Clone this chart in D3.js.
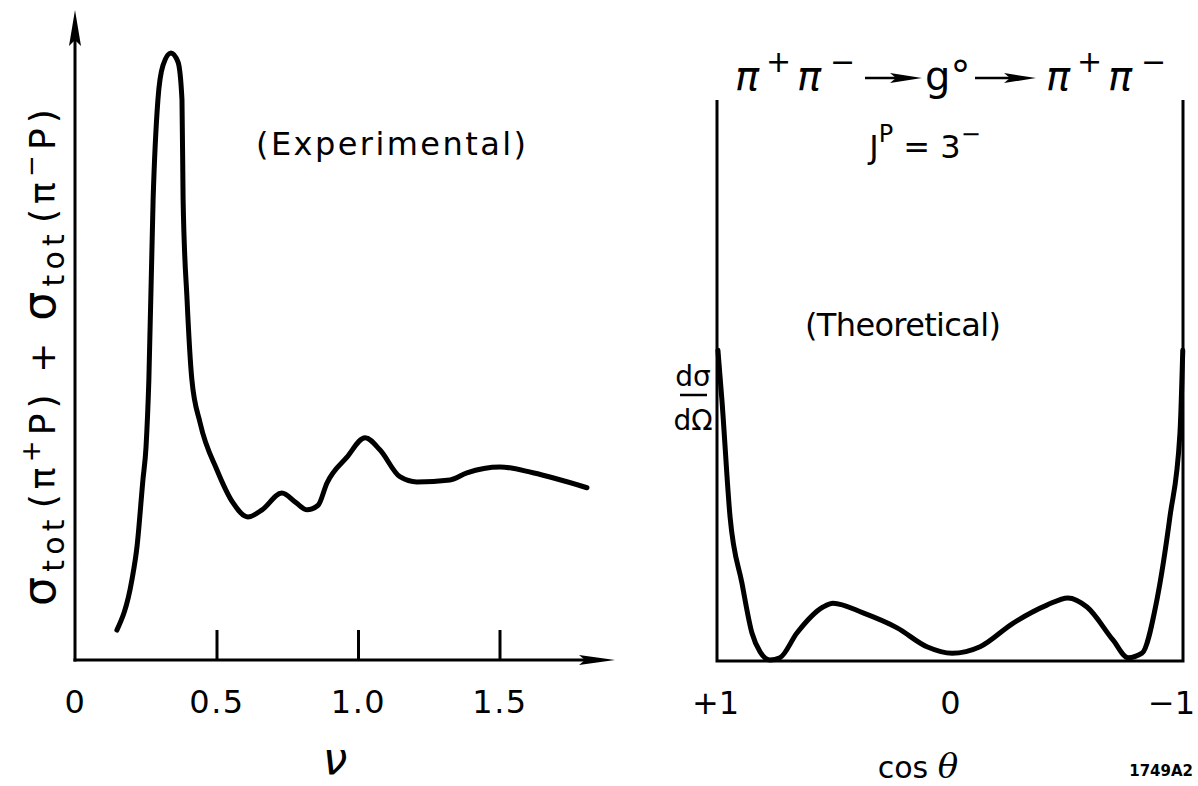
<!DOCTYPE html>
<html><head><meta charset="utf-8">
<script src="https://cdn.jsdelivr.net/npm/d3@7"></script>
<style>
body{margin:0;background:#fff}
svg{display:block}
text{font-family:"DejaVu Sans",sans-serif;fill:#000}
</style>
</head><body>
<svg id="c" width="1198" height="786"></svg>
<script>
// ---- data ----
const nuValues    = [0.148,0.201,0.219,0.240,0.251,0.261,0.276,0.293,0.311,0.339,0.364,0.378,0.382,0.396,0.413,0.442,0.502,0.558,0.611,0.661,0.731,0.781,0.820,0.859,0.890,0.961,1.025,1.078,1.148,1.208,1.325,1.385,1.502,1.618,1.809];
const sigmaValues = [4.6,12.3,17.4,27.7,32.8,43.1,70.8,86.2,91.5,93.4,92.0,86.2,70.8,55.4,43.1,36.5,29.2,24.2,22.0,23.1,25.7,24.2,23.1,23.8,27.2,31.2,34.2,32.3,28.2,27.4,27.7,28.8,29.7,28.8,26.5];
const nuTicks      = [0, 0.5, 1.0, 1.5];
const nuTickLabels = ["0", "0.5", "1.0", "1.5"];

const cosThetaValues = [0.996,0.979,0.944,0.893,0.850,0.815,0.773,0.730,0.657,0.545,0.502,0.373,0.227,0.099,-0.009,-0.129,-0.270,-0.416,-0.506,-0.588,-0.700,-0.764,-0.824,-0.888,-0.944,-0.987,-0.999];
const dsdoValues     = [47.8,40.2,22.2,12.0,4.3,1.4,0.15,0.5,4.3,8.3,8.9,7.4,5.1,2.2,1.2,2.2,5.8,8.6,9.7,8.3,3.2,0.5,1.2,9.4,22.2,35.1,47.8];
const cosTicks      = [1, 0, -1];
const cosTickLabels = ["+1", "0", "−1"];

// ---- layout ----
const svg = d3.select("#c");
const L = {x0:75, x1:615, y0:660, yTop:10};
const R = {x0:717, x1:1183, y0:661, yTop:100};

// ---- left panel ----
const xL = d3.scaleLinear().domain([0, 1.909]).range([L.x0, L.x0 + 1.909*283]);
const yL = d3.scaleLinear().domain([0, 100]).range([L.y0, L.y0 - 650]);
const gL = svg.append("g");

gL.append("line").attr("x1",L.x0).attr("y1",L.y0+1.5).attr("x2",L.x0).attr("y2",L.yTop+30)
  .attr("stroke","#000").attr("stroke-width",3);
gL.append("path").attr("d",`M${L.x0},${L.yTop} L${L.x0-6},${L.yTop+36} L${L.x0},${L.yTop+30} L${L.x0+6},${L.yTop+36} Z`).attr("fill","#000");
gL.append("line").attr("x1",L.x0-1.5).attr("y1",L.y0).attr("x2",L.x1-25).attr("y2",L.y0)
  .attr("stroke","#000").attr("stroke-width",3);
gL.append("path").attr("d",`M${L.x1},${L.y0} L${L.x1-36},${L.y0-5} L${L.x1-30},${L.y0} L${L.x1-36},${L.y0+5} Z`).attr("fill","#000");

const axL = d3.axisBottom(xL).tickValues(nuTicks).tickSize(-30).tickPadding(30)
  .tickFormat((d,i)=>nuTickLabels[i]);
const gAx = gL.append("g").attr("transform",`translate(0,${L.y0})`).call(axL);
gAx.select(".domain").remove();
gAx.selectAll(".tick line").attr("stroke","#000").attr("stroke-width",3).filter(d=>d===0).remove();
gAx.selectAll(".tick text").attr("font-size",32).attr("letter-spacing",1.5)
  .attr("font-family","DejaVu Sans").attr("fill","#000");

const lineL = d3.line().x((d,i)=>xL(nuValues[i])).y(d=>yL(d)).curve(d3.curveMonotoneX);
gL.append("path").attr("d",lineL(sigmaValues)).attr("fill","none").attr("stroke","#000")
  .attr("stroke-width",5).attr("stroke-linecap","round").attr("stroke-linejoin","round");

// y label
const yl = gL.append("text").attr("transform","translate(55,355) rotate(-90)").attr("text-anchor","middle");
yl.append("tspan").attr("font-size",46).text("σ");
yl.append("tspan").attr("font-size",30).attr("dy",9).text("tot");
yl.append("tspan").attr("font-size",36).attr("dy",-9).attr("dx",6).text("(π");
yl.append("tspan").attr("font-size",26).attr("dy",-15).text("+");
yl.append("tspan").attr("font-size",36).attr("dy",15).text("P) + ");
yl.append("tspan").attr("font-size",46).text("σ");
yl.append("tspan").attr("font-size",30).attr("dy",9).text("tot");
yl.append("tspan").attr("font-size",36).attr("dy",-9).attr("dx",6).text("(π");
yl.append("tspan").attr("font-size",26).attr("dy",-15).text("−");
yl.append("tspan").attr("font-size",36).attr("dy",15).text("P)");
{
  const len = yl.node().getComputedTextLength();
  const n = yl.text().length;
  const ls = Math.max(0, (490 - len) / n);
  yl.attr("letter-spacing", ls);
}

gL.append("text").attr("x",391).attr("y",155).attr("text-anchor","middle").attr("font-size",32)
  .attr("textLength",270).attr("lengthAdjust","spacing").text("(Experimental)");
gL.append("text").attr("x",335).attr("y",774).attr("text-anchor","middle").attr("font-size",44)
  .attr("font-family","DejaVu Serif").attr("font-style","italic").text("ν");

// ---- right panel ----
const xR = d3.scaleLinear().domain([1,-1]).range([R.x0, R.x1]);
const yR = d3.scaleLinear().domain([0,100]).range([R.y0, R.y0-650]);
const gR = svg.append("g");
gR.append("path").attr("d",`M${R.x0},${R.yTop} V${R.y0} H${R.x1} V${R.yTop}`)
  .attr("fill","none").attr("stroke","#000").attr("stroke-width",3);

const axR = d3.axisBottom(xR).tickValues(cosTicks).tickSize(0).tickPadding(30)
  .tickFormat((d,i)=>cosTickLabels[i]);
const gAxR = gR.append("g").attr("transform",`translate(0,${R.y0})`).call(axR);
gAxR.select(".domain").remove();
gAxR.selectAll(".tick text").attr("font-size",32).attr("font-family","DejaVu Sans").attr("fill","#000")
  .attr("dx",d=>d===-1?-12:(d===1?-2:0));

const lineR = d3.line().x((d,i)=>xR(cosThetaValues[i])).y(d=>yR(d)).curve(d3.curveMonotoneX);
gR.append("path").attr("d",lineR(dsdoValues)).attr("fill","none").attr("stroke","#000")
  .attr("stroke-width",5).attr("stroke-linecap","round").attr("stroke-linejoin","round");

// title
function pipi(x, y){
  const t = gR.append("text").attr("y",y).attr("font-size",40).attr("font-style","italic");
  t.append("tspan").attr("x",x).text("π");
  t.append("tspan").attr("x",x+31).attr("font-size",30).attr("font-style","normal").attr("dy",-18).text("+");
  t.append("tspan").attr("x",x+62).attr("dy",18).text("π");
  t.append("tspan").attr("x",x+95).attr("font-size",30).attr("font-style","normal").attr("dy",-18).text("−");
}
function arrow(x1, x2, y){
  gR.append("line").attr("x1",x1).attr("x2",x2-20).attr("y1",y).attr("y2",y).attr("stroke","#000").attr("stroke-width",2.5);
  gR.append("path").attr("d",`M${x2},${y} L${x2-32},${y-5} L${x2-26},${y} L${x2-32},${y+5} Z`).attr("fill","#000");
}
pipi(735, 90);
arrow(865, 922, 78);
gR.append("text").attr("x",925).attr("y",90).attr("font-size",40).text("g°");
arrow(975, 1036, 78);
pipi(1046, 90);

const jp = gR.append("text").attr("x",925).attr("y",158).attr("text-anchor","middle").attr("font-size",32);
jp.append("tspan").text("J");
jp.append("tspan").attr("font-size",24).attr("dy",-16).text("P");
jp.append("tspan").attr("dy",16).text(" = 3");
jp.append("tspan").attr("font-size",24).attr("dy",-16).text("−");

gR.append("text").attr("x",903).attr("y",336).attr("text-anchor","middle").attr("font-size",32)
  .attr("textLength",196).attr("lengthAdjust","spacing").text("(Theoretical)");

// dσ/dΩ
gR.append("text").attr("x",693).attr("y",386).attr("text-anchor","middle").attr("font-size",28).text("dσ");
gR.append("line").attr("x1",680).attr("x2",707).attr("y1",395).attr("y2",395).attr("stroke","#000").attr("stroke-width",2.5);
gR.append("text").attr("x",693).attr("y",430).attr("text-anchor","middle").attr("font-size",28).text("dΩ");

const ct = gR.append("text").attr("x",918).attr("y",778).attr("text-anchor","middle").attr("font-size",30);
ct.append("tspan").text("cos ");
ct.append("tspan").attr("font-family","DejaVu Serif").attr("font-style","italic").attr("font-size",34).text("θ");

gR.append("text").attr("x",1193).attr("y",776).attr("text-anchor","end").attr("font-size",15)
  .attr("font-weight","bold").text("1749A2");
</script>
</body></html>
